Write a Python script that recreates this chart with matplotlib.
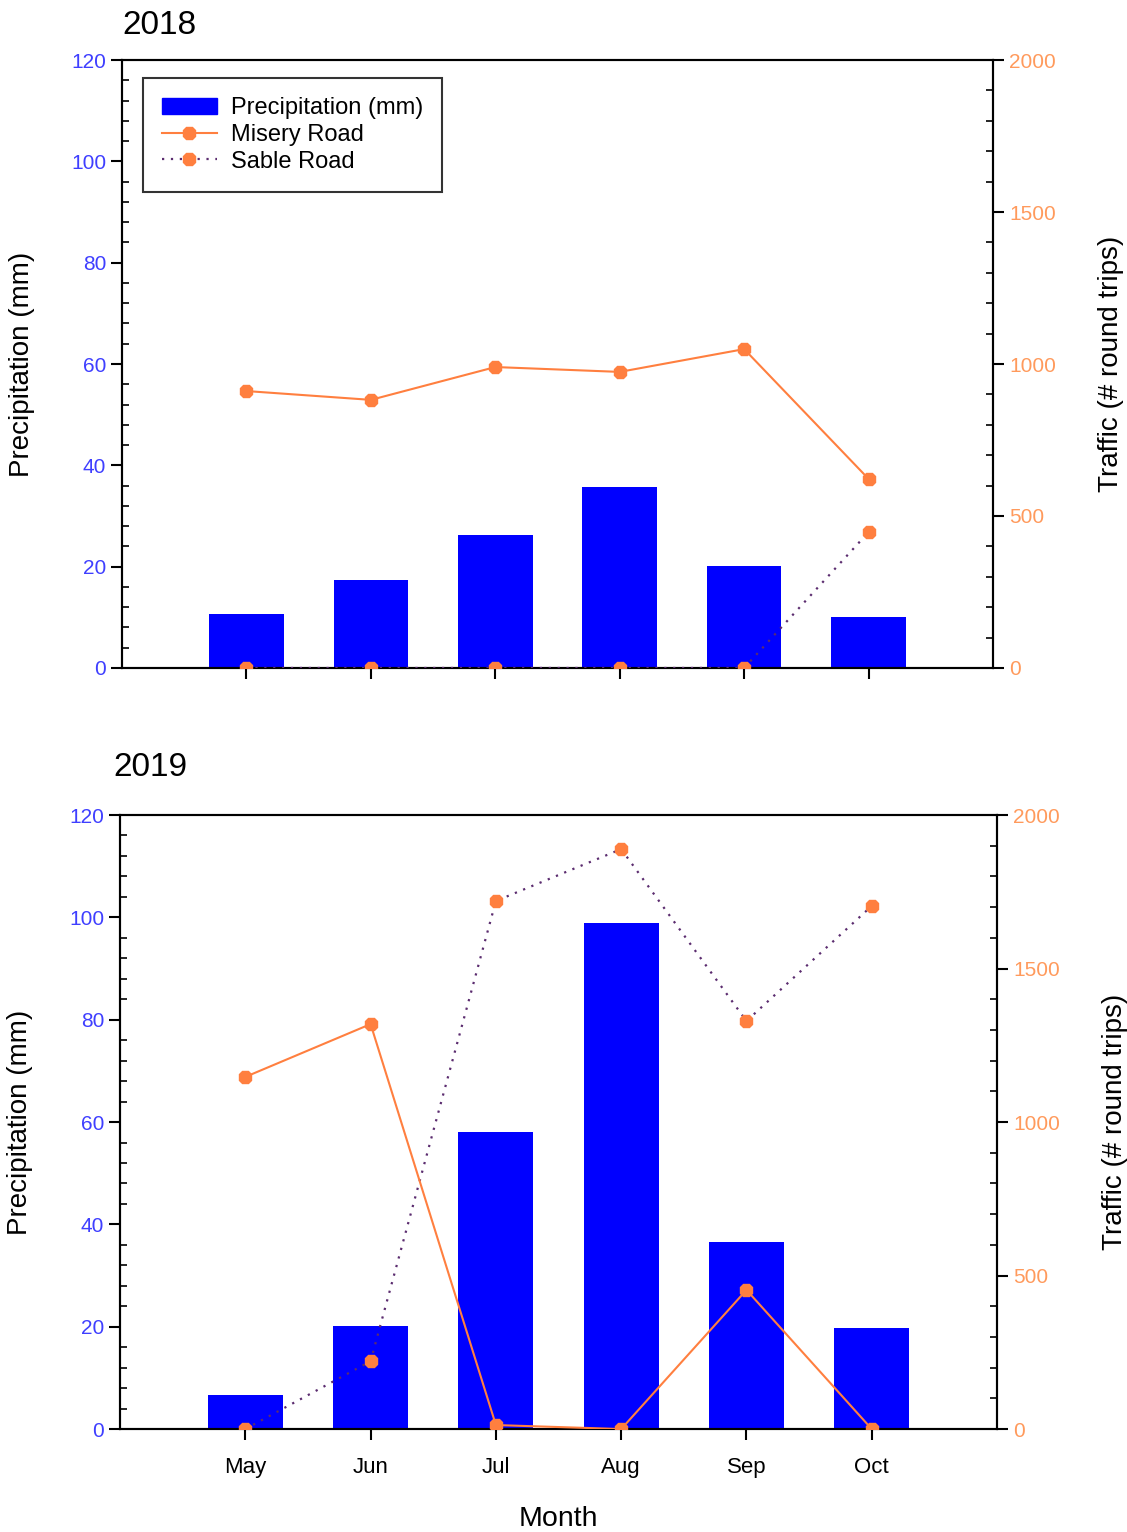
import matplotlib
matplotlib.use("Agg")
import matplotlib.pyplot as plt
from matplotlib.ticker import MultipleLocator
from matplotlib.lines import Line2D
from matplotlib.patches import Patch

plt.rcParams['font.family'] = ['Liberation Sans', 'DejaVu Sans']

months = ["May", "Jun", "Jul", "Aug", "Sep", "Oct"]
precip_2018 = [10.7, 17.4, 26.2, 35.7, 20.1, 10.1]
misery_2018 = [911, 882, 990, 974, 1049, 622]
sable_2018 = [0, 0, 0, 0, 0, 447]
precip_2019 = [6.6, 20.1, 58.0, 98.9, 36.5, 19.7]
misery_2019 = [1147, 1319, 13, 0, 453, 0]
sable_2019 = [0, 221, 1720, 1889, 1329, 1704]

BAR = "#0000FF"
ORANGE = "#FF7F3F"
PURPLE = "#5B2C6F"
LEFT_TXT = "#3F3FFF"
RIGHT_TXT = "#FF9A5C"

fig = plt.figure(figsize=(11.27, 15.32), dpi=100)

def panel(rect, precip, misery, sable, title, title_x, title_y, show_x, legend):
    ax = fig.add_axes(rect)
    x = list(range(len(months)))
    ax.bar(x, precip, width=0.6, color=BAR, zorder=2)
    ax.set_xlim(-1.0, 6.0)
    ax.set_ylim(0, 120)
    ax.yaxis.set_major_locator(MultipleLocator(20))
    ax.yaxis.set_minor_locator(MultipleLocator(4))
    ax.tick_params(axis='y', which='major', direction='out', length=8, width=1.5,
                   labelsize=15, labelcolor=LEFT_TXT)
    ax.tick_params(axis='y', which='minor', direction='in', length=5, width=1.2)
    ax.set_xticks(x)
    ax.tick_params(axis='x', which='major', direction='out', length=8, width=1.5,
                   labelsize=16, pad=12)
    if show_x:
        ax.set_xticklabels(months)
        ax.set_xlabel("Month", fontsize=20.5, labelpad=20)
    else:
        ax.set_xticklabels([])
    ax.set_ylabel("Precipitation (mm)", fontsize=20, labelpad=26)
    for s in ax.spines.values():
        s.set_linewidth(1.5)

    ax2 = ax.twinx()
    ax2.set_ylim(0, 2000)
    ax2.yaxis.set_major_locator(MultipleLocator(500))
    ax2.yaxis.set_minor_locator(MultipleLocator(100))
    ax2.tick_params(axis='y', which='major', direction='out', length=8, width=1.5,
                    labelsize=15, labelcolor=RIGHT_TXT)
    ax2.tick_params(axis='y', which='minor', direction='in', length=5, width=1.2)
    ax2.plot(x, sable, linestyle=(0, (1, 3)), color=PURPLE, lw=1.6, zorder=3)
    ax2.plot(x, sable, linestyle='none', marker='8', markersize=10, color=ORANGE, zorder=4)
    ax2.plot(x, misery, linestyle='-', color=ORANGE, lw=1.5, marker='8',
             markersize=10, zorder=5)
    ax2.set_ylabel("Traffic (# round trips)", fontsize=20, labelpad=30)
    for s in ax2.spines.values():
        s.set_linewidth(1.5)
    fig.text(title_x, title_y, title, fontsize=24, ha='left', va='center')

    if legend:
        handles = [Patch(facecolor=BAR, edgecolor=BAR),
                   Line2D([], [], color=ORANGE, lw=1.5, marker='8', markersize=10),
                   Line2D([], [], color=PURPLE, lw=1.6, linestyle=(0, (1, 3)),
                          marker='8', markersize=10, markerfacecolor=ORANGE,
                          markeredgecolor=ORANGE)]
        labels = ["Precipitation (mm)", "Misery Road", "Sable Road"]
        leg = ax2.legend(handles, labels, loc='upper left',
                         bbox_to_anchor=(0.024, 0.97), fontsize=17, frameon=True,
                         fancybox=False, edgecolor='black', handlelength=2.33,
                         labelspacing=0.2, borderpad=0.8, handletextpad=0.6,
                         borderaxespad=0)
        leg.get_frame().set_linewidth(1.5)
    return ax, ax2

panel([0.1083, 0.5640, 0.7728, 0.3968], precip_2018, misery_2018, sable_2018,
      "2018", 122 / 1127, 1 - 25 / 1532, False, True)
panel([0.1065, 0.0672, 0.7782, 0.4008], precip_2019, misery_2019, sable_2019,
      "2019", 113 / 1127, 1 - 768 / 1532, True, False)

fig.savefig("out.png", dpi=100)
